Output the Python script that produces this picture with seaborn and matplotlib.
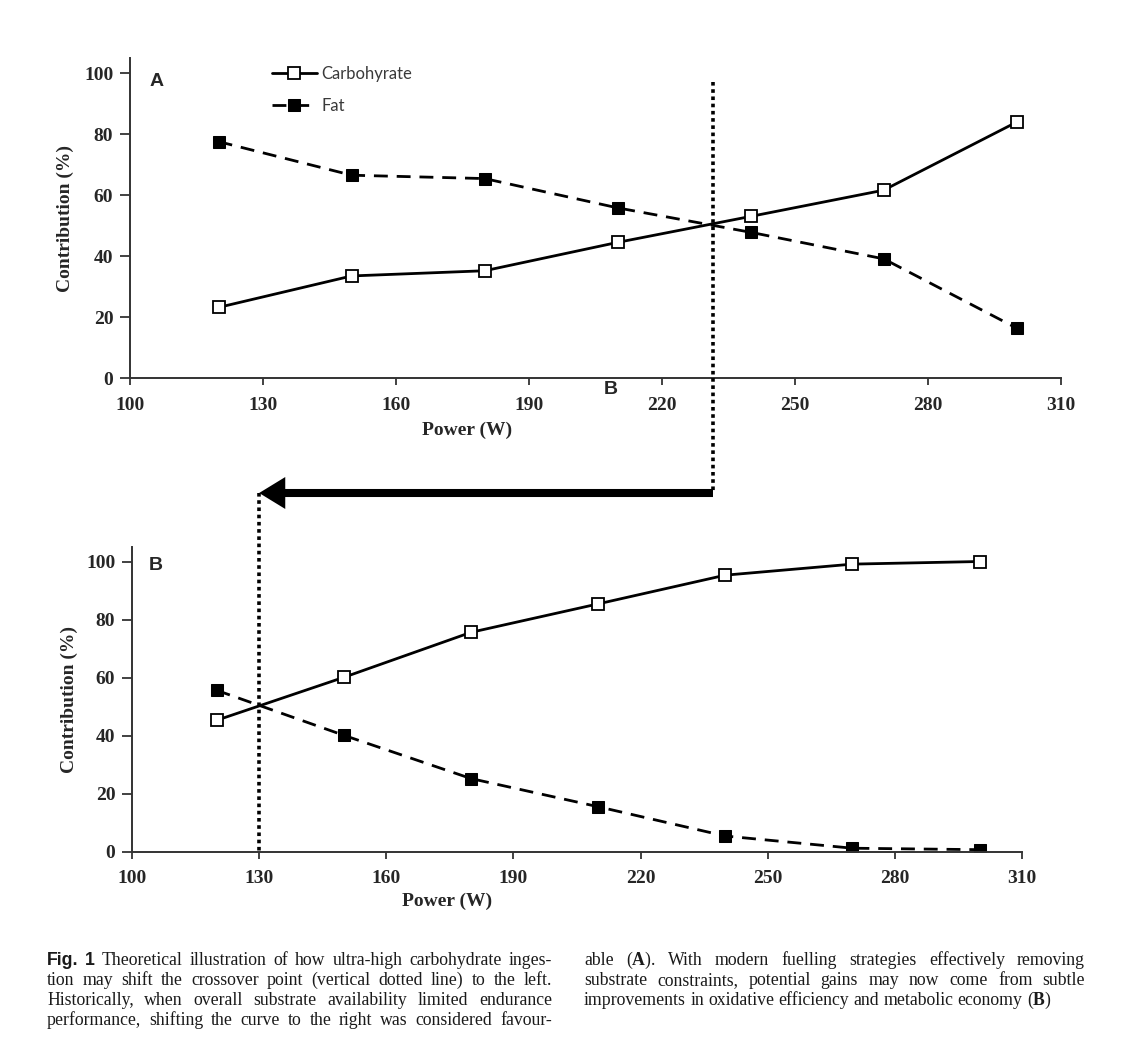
import matplotlib
matplotlib.use('Agg')
import matplotlib.pyplot as plt
import seaborn as sns
from matplotlib import transforms
from matplotlib.lines import Line2D
from matplotlib.patches import ConnectionPatch

# ---------------- data ----------------
power = [120, 150, 180, 210, 240, 270, 300]
carb_a = [23.3, 33.6, 35.3, 44.6, 53.1, 61.7, 84.0]
fat_a = [77.6, 66.6, 65.5, 55.9, 47.9, 39.2, 16.5]
carb_b = [45.3, 60.1, 75.6, 85.4, 95.3, 99.1, 100.0]
fat_b = [55.6, 40.1, 25.2, 15.5, 5.4, 1.2, 0.7]
x_ticks = [100, 130, 160, 190, 220, 250, 280, 310]
y_ticks = [0, 20, 40, 60, 80, 100]
crossover_a = 231.5
crossover_b = 130
series_names = ['Carbohyrate', 'Fat']

caption_left = [
    "Fig. 1  Theoretical illustration of how ultra-high carbohydrate inges-",
    "tion may shift the crossover point (vertical dotted line) to the left.",
    "Historically, when overall substrate availability limited endurance",
    "performance, shifting the curve to the right was considered favour-",
]
caption_right = [
    "able ($\\mathbf{A}$). With modern fuelling strategies effectively removing",
    "substrate constraints, potential gains may now come from subtle",
    "improvements in oxidative efficiency and metabolic economy ($\\mathbf{B}$)",
]

# ---------------- style ----------------
sns.set_style('ticks')
plt.rcParams['font.family'] = ['Liberation Serif', 'DejaVu Sans']
plt.rcParams['mathtext.fontset'] = 'custom'
plt.rcParams['mathtext.rm'] = 'Liberation Serif'
plt.rcParams['mathtext.bf'] = 'Liberation Serif:bold'

W, H = 1143, 1058
fig = plt.figure(figsize=(W / 100, H / 100), dpi=100)


def px_rect(l, t, r, b):
    return [l / W, 1 - b / H, (r - l) / W, (b - t) / H]


axA = fig.add_axes(px_rect(130, 58, 1061, 378.5))
axB = fig.add_axes(px_rect(132, 547, 1022, 851.7))

dash = (0, (5, 3.2))
for ax, carb, fat in [(axA, carb_a, fat_a), (axB, carb_b, fat_b)]:
    sns.lineplot(x=power, y=carb, ax=ax, color='black', linewidth=2,
                 marker='s', markersize=8, markerfacecolor='white',
                 markeredgecolor='black', markeredgewidth=1.3,
                 label=series_names[0], legend=False)
    sns.lineplot(x=power, y=fat, ax=ax, color='black', linewidth=2,
                 linestyle=dash, marker='s', markersize=8,
                 markerfacecolor='black', markeredgecolor='black',
                 label=series_names[1], legend=False)
    ax.set_xlim(100, 310)
    ax.set_ylim(0, 105)
    ax.set_xticks(x_ticks)
    ax.set_yticks(y_ticks)
    sns.despine(ax=ax)
    for s in ['left', 'bottom']:
        ax.spines[s].set_linewidth(1.4)
        ax.spines[s].set_color('#333333')
    ax.tick_params(axis='x', direction='out', length=5, width=1.3,
                   color='#333333', labelsize=14, pad=8)
    ax.tick_params(axis='y', direction='out', length=7, width=1.3,
                   color='#333333', labelsize=14, pad=5)
    for lbl in ax.get_xticklabels() + ax.get_yticklabels():
        lbl.set_fontweight('bold')
    ax.set_xlabel('Power (W)', fontsize=14, fontweight='bold', va='center')
    ax.set_ylabel('Contribution (%)', fontsize=14, fontweight='bold', va='center')

axA.xaxis.set_label_coords(0.362, -0.161)
axA.yaxis.set_label_coords(-0.0698, 0.5)
axB.xaxis.set_label_coords(0.354, -0.162)
axB.yaxis.set_label_coords(-0.0708, 0.5)

# legend (panel A only)
handles = axA.lines[:2]
axA.legend(handles, series_names, loc='upper left', bbox_to_anchor=(0.1525, 0.975),
           frameon=False, prop={'family': 'Lato', 'size': 12},
           labelcolor='#3a3a3a', handlelength=2.7, handletextpad=0.25,
           labelspacing=0.95, borderpad=0, borderaxespad=0)

# panel letters
fig.text(156.5 / W, 1 - 81.5 / H, 'A', family='Liberation Sans', weight='bold',
         fontsize=14, ha='center', va='center')
fig.text(611 / W, 1 - 389 / H, 'B', family='Liberation Sans', weight='bold',
         fontsize=14, ha='center', va='center')
fig.text(156 / W, 1 - 565 / H, 'B', family='Liberation Sans', weight='bold',
         fontsize=14, ha='center', va='center')

# crossover lines and arrow
y_arrow = 1 - 493 / H
to_fig = fig.transFigure.inverted()
blendA = transforms.blended_transform_factory(axA.transData, fig.transFigure)
blendB = transforms.blended_transform_factory(axB.transData, fig.transFigure)
top_a = to_fig.transform(axA.transData.transform((crossover_a, 97.2)))[1]
bottom_b = to_fig.transform(axB.transData.transform((crossover_b, 0)))[1]
dotted = dict(color='black', linewidth=2.6, linestyle=(0, (1, 1)))
fig.add_artist(Line2D([crossover_a, crossover_a], [top_a, y_arrow],
                      transform=blendA, **dotted))
fig.add_artist(Line2D([crossover_b, crossover_b], [y_arrow, bottom_b],
                      transform=blendB, **dotted))
fig.add_artist(ConnectionPatch((crossover_a, y_arrow), (crossover_b, y_arrow),
                               coordsA=blendA, coordsB=blendB,
                               arrowstyle='simple,head_length=0.94,head_width=1.15,tail_width=0.29',
                               mutation_scale=20, facecolor='black', edgecolor='none'))

# ---------------- caption (justified lines) ----------------
renderer = fig.canvas.get_renderer()


def caption_line(text, x0, x1, y, justify=True):
    words = text.split()
    arts = []
    for i, w in enumerate(words):
        sans = text.startswith('Fig.') and i < 2
        t = fig.text(0, 1 - y / H, w, fontsize=12.8, va='baseline', ha='left',
                     family='Liberation Sans' if sans else 'Liberation Serif',
                     weight='bold' if sans else 'normal', color='#1a1a1a')
        arts.append(t)
    widths = [t.get_window_extent(renderer).width for t in arts]
    gap = (x1 - x0 - sum(widths)) / (len(words) - 1) if justify else 4.3
    gap = max(gap, 3.0)
    x = x0
    for t, wd in zip(arts, widths):
        t.set_x(x / W)
        x += wd + gap


baselines = [965, 985, 1005, 1025]
for line, yb in zip(caption_left, baselines):
    caption_line(line, 47, 552, yb)
for i, (line, yb) in enumerate(zip(caption_right, baselines)):
    caption_line(line, 584, 1085, yb, justify=i < len(caption_right) - 1)

fig.savefig('out.png', dpi=100)
